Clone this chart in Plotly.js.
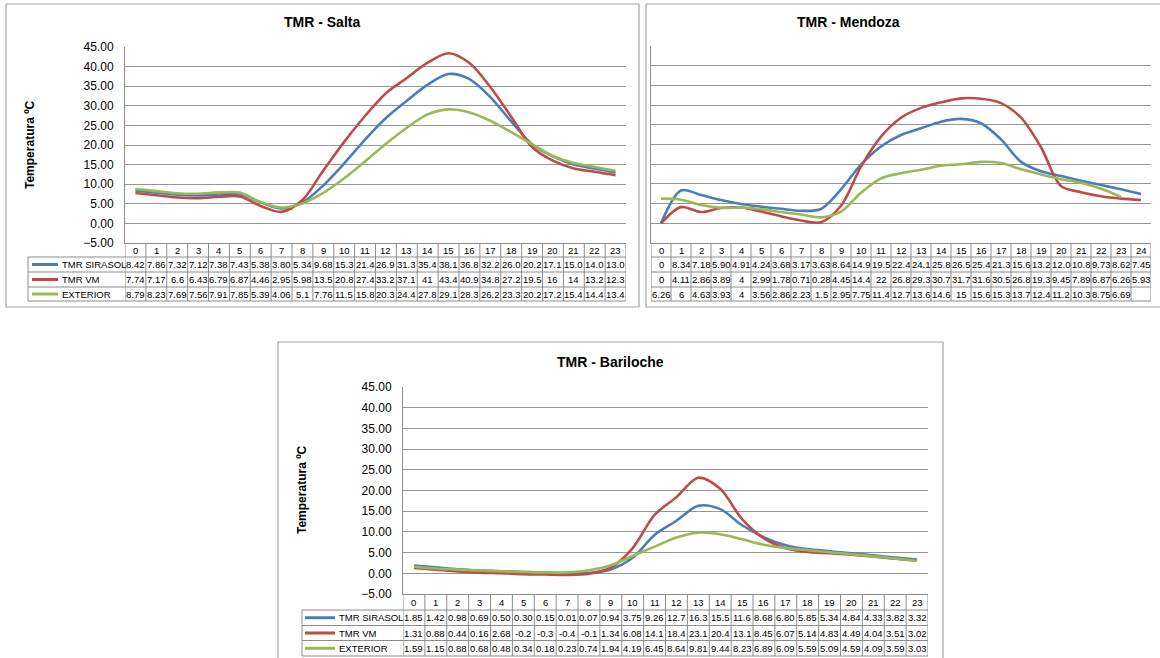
<!DOCTYPE html>
<html><head><meta charset="utf-8">
<script src="https://cdn.plot.ly/plotly-3.0.1.min.js"></script>
<style>html,body{margin:0;padding:0;background:#fff;}#chart{width:1160px;height:658px;}</style>
</head><body><div id="chart"></div>
<script>
// ---------- categories ----------
const hours24 = ["0","1","2","3","4","5","6","7","8","9","10","11","12","13","14","15","16","17","18","19","20","21","22","23"];
const hours25 = ["0","1","2","3","4","5","6","7","8","9","10","11","12","13","14","15","16","17","18","19","20","21","22","23","24"];
const seriesNames = ["TMR SIRASOL", "TMR VM", "EXTERIOR"];
const seriesColors = ["#4A7EBB", "#BE4B48", "#98B954"];

// ---------- Salta ----------
const saltaSirasol = [8.42,7.86,7.32,7.12,7.38,7.43,5.38,3.80,5.34,9.68,15.3,21.4,26.9,31.3,35.4,38.1,36.8,32.2,26.0,20.2,17.1,15.0,14.0,13.0];
const saltaVM      = [7.74,7.17,6.6,6.43,6.79,6.87,4.46,2.95,5.98,13.5,20.8,27.4,33.2,37.1,41,43.4,40.9,34.8,27.2,19.5,16,14,13.2,12.3];
const saltaExt     = [8.79,8.23,7.69,7.56,7.91,7.85,5.39,4.06,5.1,7.76,11.5,15.8,20.3,24.4,27.8,29.1,28.3,26.2,23.3,20.2,17.2,15.4,14.4,13.4];
const saltaSirasolText = ["8.42","7.86","7.32","7.12","7.38","7.43","5.38","3.80","5.34","9.68","15.3","21.4","26.9","31.3","35.4","38.1","36.8","32.2","26.0","20.2","17.1","15.0","14.0","13.0"];
const saltaVMText      = ["7.74","7.17","6.6","6.43","6.79","6.87","4.46","2.95","5.98","13.5","20.8","27.4","33.2","37.1","41","43.4","40.9","34.8","27.2","19.5","16","14","13.2","12.3"];
const saltaExtText     = ["8.79","8.23","7.69","7.56","7.91","7.85","5.39","4.06","5.1","7.76","11.5","15.8","20.3","24.4","27.8","29.1","28.3","26.2","23.3","20.2","17.2","15.4","14.4","13.4"];

// ---------- Mendoza ----------
const mendozaSirasol = [0,8.34,7.18,5.90,4.91,4.24,3.68,3.17,3.63,8.64,14.9,19.5,22.4,24.1,25.8,26.5,25.4,21.3,15.6,13.2,12.0,10.8,9.73,8.62,7.45];
const mendozaVM      = [0,4.11,2.86,3.89,4,2.99,1.78,0.71,0.28,4.45,14.4,22,26.8,29.3,30.7,31.7,31.6,30.5,26.8,19.3,9.45,7.89,6.87,6.26,5.93];
const mendozaExt     = [6.26,6,4.63,3.93,4,3.56,2.86,2.23,1.5,2.95,7.75,11.4,12.7,13.6,14.6,15,15.6,15.3,13.7,12.4,11.2,10.3,8.75,6.69];
const mendozaSirasolText = ["0","8.34","7.18","5.90","4.91","4.24","3.68","3.17","3.63","8.64","14.9","19.5","22.4","24.1","25.8","26.5","25.4","21.3","15.6","13.2","12.0","10.8","9.73","8.62","7.45"];
const mendozaVMText      = ["0","4.11","2.86","3.89","4","2.99","1.78","0.71","0.28","4.45","14.4","22","26.8","29.3","30.7","31.7","31.6","30.5","26.8","19.3","9.45","7.89","6.87","6.26","5.93"];
const mendozaExtText     = ["6.26","6","4.63","3.93","4","3.56","2.86","2.23","1.5","2.95","7.75","11.4","12.7","13.6","14.6","15","15.6","15.3","13.7","12.4","11.2","10.3","8.75","6.69",""];

// ---------- Bariloche ----------
const barilocheSirasol = [1.85,1.42,0.98,0.69,0.50,0.30,0.15,0.01,0.07,0.94,3.75,9.26,12.7,16.3,15.5,11.6,8.68,6.80,5.85,5.34,4.84,4.33,3.82,3.32];
const barilocheVM      = [1.31,0.88,0.44,0.16,0.03,-0.2,-0.3,-0.4,-0.1,1.34,6.08,14.1,18.4,23.1,20.4,13.1,8.45,6.07,5.14,4.83,4.49,4.04,3.51,3.02];
const barilocheExt     = [1.59,1.15,0.88,0.68,0.48,0.34,0.18,0.23,0.74,1.94,4.19,6.45,8.64,9.81,9.44,8.23,6.89,6.09,5.59,5.09,4.59,4.09,3.59,3.03];
const barilocheSirasolText = ["1.85","1.42","0.98","0.69","0.50","0.30","0.15","0.01","0.07","0.94","3.75","9.26","12.7","16.3","15.5","11.6","8.68","6.80","5.85","5.34","4.84","4.33","3.82","3.32"];
const barilocheVMText      = ["1.31","0.88","0.44","0.16","2.68","-0.2","-0.3","-0.4","-0.1","1.34","6.08","14.1","18.4","23.1","20.4","13.1","8.45","6.07","5.14","4.83","4.49","4.04","3.51","3.02"];
const barilocheExtText     = ["1.59","1.15","0.88","0.68","0.48","0.34","0.18","0.23","0.74","1.94","4.19","6.45","8.64","9.81","9.44","8.23","6.89","6.09","5.59","5.09","4.59","4.09","3.59","3.03"];

// ---------- layout helpers ----------
const W = 1160, H = 658;
const px = v => v / W;
const py = v => 1 - v / H;
const FONT = "Liberation Sans, Arial, sans-serif";
const GRID = "#969696";
const BORDER = "#8c8c8c";

const charts = [
  { title: "TMR - Salta", cats: hours24,
    series: [saltaSirasol, saltaVM, saltaExt], texts: [saltaSirasolText, saltaVMText, saltaExtText],
    L: 125, R: 626, T: 47, B: 243, rowLines: [243, 257, 272, 287, 301],
    legendLeft: 28, keyX: [32, 58], labelX: 60,
    box: [6, 4, 639, 307], titlePos: [322, 22], yTitle: [30, 145], tickLabels: true },
  { title: "TMR - Mendoza", cats: hours25,
    series: [mendozaSirasol, mendozaVM, mendozaExt], texts: [mendozaSirasolText, mendozaVMText, mendozaExtText],
    L: 651, R: 1151, T: 46, B: 243, rowLines: [243, 257, 272, 287, 301],
    legendLeft: null, box: [646, 4, 1175, 307], titlePos: [848, 22], yTitle: null, tickLabels: false },
  { title: "TMR - Bariloche", cats: hours24,
    series: [barilocheSirasol, barilocheVM, barilocheExt], texts: [barilocheSirasolText, barilocheVMText, barilocheExtText],
    L: 403, R: 928, T: 387, B: 594, rowLines: [594, 610, 625.5, 640.5, 656],
    legendLeft: 302, keyX: [305, 335], labelX: 337,
    box: [278, 342, 943, 675], titlePos: [610, 362], yTitle: [302, 490], tickLabels: true }
];

const traces = [], shapes = [], annotations = [];
const layout = {
  width: W, height: H, margin: {l: 0, r: 0, t: 0, b: 0},
  paper_bgcolor: "#fff", plot_bgcolor: "rgba(0,0,0,0)",
  showlegend: false, font: {family: FONT, color: "#000"}
};

charts.forEach((c, k) => {
  const sfx = k === 0 ? "" : String(k + 1);
  const xa = "x" + sfx, ya = "y" + sfx;
  const n = c.cats.length;
  const xs = c.cats.map((_, i) => i);

  layout["xaxis" + sfx] = {
    domain: [px(c.L), px(c.R)], range: [-0.5, n - 0.5], anchor: ya,
    showticklabels: false, showgrid: false, zeroline: false, ticks: "",
    showline: true, linecolor: BORDER, linewidth: 1, fixedrange: true
  };
  layout["yaxis" + sfx] = {
    domain: [py(c.B), py(c.T)], range: [-5, 45], anchor: xa,
    tick0: 0, dtick: 5, tickformat: ".2f", showticklabels: c.tickLabels,
    ticks: "", ticklabelstandoff: 8,
    tickfont: {size: 12, family: FONT, color: "#000"},
    showgrid: true, gridcolor: GRID, gridwidth: 1, zeroline: false,
    showline: true, linecolor: BORDER, linewidth: 1, fixedrange: true
  };

  // lines
  c.series.forEach((s, j) => {
    traces.push({
      type: "scatter", mode: "lines", x: xs.slice(0, s.length), y: s,
      xaxis: xa, yaxis: ya, name: seriesNames[j],
      line: {color: seriesColors[j], width: 2.6, shape: "spline", smoothing: 0.9},
      hoverinfo: "skip"
    });
  });

  // chart frame
  shapes.push({type: "rect", xref: "paper", yref: "paper",
    x0: px(c.box[0]), x1: px(c.box[2]), y0: py(c.box[3]), y1: py(c.box[1]),
    line: {color: "#a6a6a6", width: 1.2}, fillcolor: "rgba(0,0,0,0)", layer: "below"});

  // title
  annotations.push({text: "<b>" + c.title + "</b>", xref: "paper", yref: "paper",
    x: px(c.titlePos[0]), y: py(c.titlePos[1]), xanchor: "center", yanchor: "middle",
    showarrow: false, font: {size: 14, family: FONT, color: "#000"}});
  if (c.yTitle) {
    annotations.push({text: "<b>Temperatura ºC</b>", xref: "paper", yref: "paper",
      x: px(c.yTitle[0]), y: py(c.yTitle[1]), xanchor: "center", yanchor: "middle",
      textangle: -90, showarrow: false, font: {size: 12, family: FONT, color: "#000"}});
  }

  // data table
  const rl = c.rowLines;
  const tableLeft = c.legendLeft !== null ? c.legendLeft : c.L;
  for (let i = 0; i <= n; i++) {
    shapes.push({type: "line", xref: xa, yref: "paper", x0: i - 0.5, x1: i - 0.5,
      y0: py(rl[0]), y1: py(rl[4]), line: {color: BORDER, width: 1}});
  }
  for (let r = 1; r <= 4; r++) {
    shapes.push({type: "line", xref: "paper", yref: "paper",
      x0: px(r === 1 && c.legendLeft === null ? c.L : tableLeft), x1: px(c.R),
      y0: py(rl[r]), y1: py(rl[r]), line: {color: BORDER, width: 1}});
  }
  if (c.legendLeft !== null) {
    shapes.push({type: "line", xref: "paper", yref: "paper", x0: px(c.legendLeft), x1: px(c.legendLeft),
      y0: py(rl[1]), y1: py(rl[4]), line: {color: BORDER, width: 1}});
  }
  const cellFont = {size: 9.5, family: FONT, color: "#000"};
  // header row = categories
  c.cats.forEach((t, i) => {
    annotations.push({text: t, xref: xa, yref: "paper", x: i, y: py((rl[0] + rl[1]) / 2),
      xanchor: "center", yanchor: "middle", showarrow: false, font: cellFont});
  });
  c.texts.forEach((row, j) => {
    const yc = py((rl[j + 1] + rl[j + 2]) / 2);
    row.forEach((t, i) => {
      if (t === "") return;
      annotations.push({text: t, xref: xa, yref: "paper", x: i, y: yc,
        xanchor: "center", yanchor: "middle", showarrow: false, font: cellFont});
    });
    if (c.legendLeft !== null) {
      shapes.push({type: "line", xref: "paper", yref: "paper", x0: px(c.keyX[0]), x1: px(c.keyX[1]),
        y0: yc, y1: yc, line: {color: seriesColors[j], width: 3}});
      annotations.push({text: seriesNames[j], xref: "paper", yref: "paper", x: px(c.labelX), y: yc,
        xanchor: "left", yanchor: "middle", showarrow: false, font: cellFont});
    }
  });
});

layout.shapes = shapes;
layout.annotations = annotations;
Plotly.newPlot("chart", traces, layout, {staticPlot: true, displayModeBar: false});
</script>
</body></html>
